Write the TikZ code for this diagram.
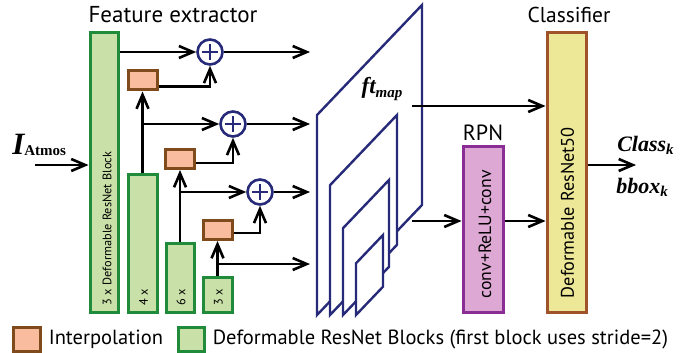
\documentclass[tikz,border=0pt]{standalone}
\usepackage{fontspec}
\setmainfont{PT Sans}
\newfontfamily\tmsfont{Liberation Serif}
\usetikzlibrary{arrows.meta,positioning}

\definecolor{blkgreen}{HTML}{C9E1A8}
\definecolor{blkgreenline}{HTML}{1F8B3B}
\definecolor{interp}{HTML}{F9BC9E}
\definecolor{interpline}{HTML}{7F4A1C}
\definecolor{mapnavy}{HTML}{262A78}
\definecolor{rpnpink}{HTML}{DEA8D4}
\definecolor{rpnline}{HTML}{8A2D94}
\definecolor{clsyellow}{HTML}{EDE898}
\definecolor{clsline}{HTML}{A0532A}

% bold italic label with a subscript
\newcommand{\mathlbl}[2]{{\tmsfont\bfseries\itshape #1\raisebox{-0.3ex}{\fontsize{15}{15}\selectfont #2}}}

\begin{document}
\begin{tikzpicture}[x=1pt,y=-1pt,>={Straight Barb[length=14pt,width=12pt]},line width=2.6pt]
  \tikzstyle{fblock}=[draw=blkgreenline,fill=blkgreen,line width=3pt,inner sep=0pt]
  \tikzstyle{iblock}=[draw=interpline,fill=interp,line width=3pt,inner sep=0pt,minimum width=29,minimum height=19]
  \tikzstyle{blabel}=[rotate=90,anchor=west,inner sep=0pt,font=\fontsize{12.3}{12.3}\selectfont]
  \tikzstyle{sumnode}=[circle,draw=mapnavy,fill=white,line width=2.6pt,minimum size=25,inner sep=0pt,
    path picture={\draw[mapnavy,line width=2.6pt] (path picture bounding box.center) +(-8pt,0pt) -- +(8pt,0pt)
      (path picture bounding box.center) +(0pt,-8pt) -- +(0pt,8pt);}]
  \tikzstyle{title}=[font=\fontsize{22}{22}\selectfont,inner sep=0pt]
  \tikzstyle{fmap}=[draw=mapnavy,fill=white,line width=2.4pt,line join=miter]

  \useasboundingbox (0,0) rectangle (691,353);

  % Feature extractor
  \node[title,font=\fontsize{23}{23}\selectfont] (fetitle) at (173,15) {Feature extractor};
  \node[fblock,minimum width=28,minimum height=279] (b1) at (104,172.5) {};
  \node[fblock,minimum width=29,minimum height=138] (b2) at (142.5,243) {};
  \node[fblock,minimum width=28,minimum height=69] (b3) at (180,277.5) {};
  \node[fblock,minimum width=29,minimum height=35] (b4) at (217.5,294.5) {};
  \node[blabel] at ([xshift=3pt,yshift=7pt]b1.south) {3 x Deformable ResNet Block};
  \node[blabel] at ([xshift=1pt,yshift=7pt]b2.south) {4 x};
  \node[blabel] at ([xshift=1pt,yshift=7pt]b3.south) {6 x};
  \node[blabel] at ([xshift=1pt,yshift=7pt]b4.south) {3 x};

  \node[iblock] (i1) at (142.5,80.5) {};
  \node[iblock] (i2) at (180,159) {};
  \node[iblock] (i3) at (217.5,230) {};

  \node[sumnode] (s1) at (210,52) {};
  \node[sumnode] (s2) at (233,124) {};
  \node[sumnode] (s3) at (260,192) {};

  \coordinate (o1) at (310,52);
  \coordinate (o2) at (310,124);
  \coordinate (o3) at (310,192);
  \coordinate (o4) at (310,264);

  % Input
  \node[inner sep=0pt,anchor=west] (inp) at (11,145) {{\tmsfont\bfseries\itshape\fontsize{31}{31}\selectfont I}\raisebox{-0.3ex}{\tmsfont\bfseries\fontsize{15}{15}\selectfont Atmos}};
  \coordinate (inpstart) at (35,165);

  % Feature maps
  \foreach \l/\r/\t in {317/422/5, 330/397/115, 343/389/180, 356/383/235}
    \draw[fmap] (\l,315) -- ({\l},{\t+(\r-\l)*1.048}) -- (\r,\t) -- ({\r},{315-(\r-\l)*1.048}) -- cycle;
  \node[inner sep=0pt] (ftmap) at (382,89) {\mathlbl{\fontsize{23}{23}\selectfont ft}{map}};
  \coordinate (f1) at (412,106);
  \coordinate (f2) at (412,221);

  % RPN and classifier
  \node[title] (rpntitle) at (483,133) {RPN};
  \node[draw=rpnline,fill=rpnpink,line width=3pt,minimum width=40,minimum height=166,inner sep=0pt] (rpn) at (483,229) {};
  \node[blabel,font=\fontsize{17.7}{17.7}\selectfont] at ([xshift=2pt,yshift=14pt]rpn.south) {conv+ReLU+conv};
  \node[title,font=\fontsize{21.5}{21.5}\selectfont] (cltitle) at (569,15) {Classifier};
  \node[draw=clsline,fill=clsyellow,line width=3pt,minimum width=39,minimum height=279,inner sep=0pt] (cl) at (566.5,172.5) {};
  \node[blabel,font=\fontsize{18.3}{18.3}\selectfont] at ([xshift=1pt,yshift=14pt]cl.south) {Deformable ResNet50};
  \coordinate (out) at (636,165);
  \node[inner sep=0pt,anchor=west] (clsk) at (616,145) {\mathlbl{\fontsize{22}{22}\selectfont Class}{k}};
  \node[inner sep=0pt,anchor=west] (bboxk) at (615,187) {\mathlbl{\fontsize{22}{22}\selectfont bbox}{k}};

  % Connections
  \draw[->] (inpstart) -- (inpstart -| b1.west);
  \draw[->] (b1.east |- s1) -- (s1);
  \draw[->] (s1) -- (o1);
  \draw[->] ([yshift=-6pt]i1.east) -| (s1.south);
  \draw[->] (b2.north) -- (i1.south);
  \draw[->] (b2.north |- s2) -- (s2);
  \draw[->] (s2) -- (o2);
  \draw[->] ([yshift=-4pt]i2.east) -| (s2.south);
  \draw[->] (b3.north) -- (i2.south);
  \draw[->] (b3.north |- s3) -- (s3);
  \draw[->] (s3) -- (o3);
  \draw[->] ([yshift=-3pt]i3.east) -| (s3.south);
  \draw[->] (b4.north) -- (i3.south);
  \draw[->] (b4.north |- o4) -- (o4);
  \draw[->] (f1) -- (f1 -| cl.west);
  \draw[->] (f2) -- (f2 -| rpn.west);
  \draw[->] (rpn.east |- f2) -- (f2 -| cl.west);
  \draw[->] (cl.east |- out) -- (out);

  % Legend
  \node[iblock,minimum width=27,minimum height=24] (legi) at (26.5,339) {};
  \node[title,font=\fontsize{20.5}{20.5}\selectfont,anchor=west] (legitext) at ([xshift=6pt]legi.east) {Interpolation};
  \node[fblock,minimum width=26,minimum height=24] (legf) at (191,339) {};
  \node[title,font=\fontsize{20.5}{20.5}\selectfont,anchor=west] (legftext) at ([xshift=6pt]legf.east) {Deformable ResNet Blocks (first block uses stride=2)};
\end{tikzpicture}
\end{document}
